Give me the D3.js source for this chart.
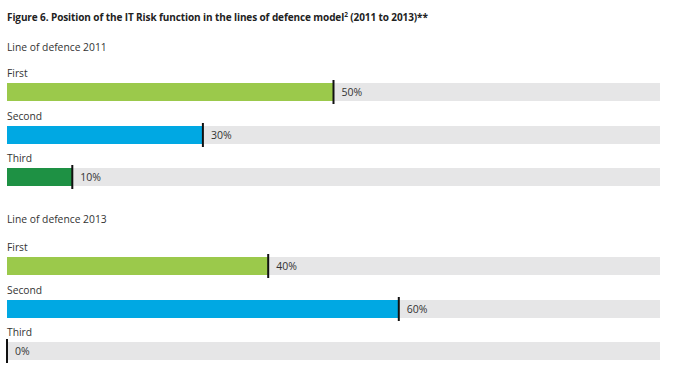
<!DOCTYPE html>
<html><head><meta charset="utf-8">
<script src="https://cdn.jsdelivr.net/npm/d3@7"></script>
<style>body{margin:0;background:#fff}svg{display:block}</style>
</head><body>
<script>
const categories = ["First","Second","Third"];
const values2011 = [50,30,10];
const values2013 = [40,60,0];
const groups = ["Line of defence 2011","Line of defence 2013"];
const colors = ["#9bc94b","#00a8e3","#1e9144"];

const W=680,H=378;
const svg=d3.select("body").append("svg").attr("width",W).attr("height",H);
const font="'Open Sans', sans-serif";
const x=d3.scaleLinear().domain([0,100]).range([7,660]);

const title=svg.append("text").attr("x",7).attr("y",21).attr("font-family",font)
 .attr("font-size",10).attr("font-weight","bold").attr("fill","#222").attr("letter-spacing",-0.1);
title.append("tspan").text("Figure 6. Position of the IT Risk function in the lines of defence model");
title.append("tspan").attr("font-size",6.5).attr("dy",-4).text("2");
title.append("tspan").attr("dy",4).text(" (2011 to 2013)**");

const data=[values2011,values2013];
const groupTop=[47,219];
const barStart=[83,257];
data.forEach((vals,gi)=>{
  const g=svg.append("g");
  g.append("text").attr("x",7).attr("y",groupTop[gi]+4).attr("font-family",font)
   .attr("font-size",10.3).attr("fill","#333").text(groups[gi]);
  const y=d3.scaleBand().domain(categories).range([barStart[gi],barStart[gi]+42.5*3]);
  categories.forEach((c,i)=>{
    const top=Math.round(y(c));
    g.append("text").attr("x",7).attr("y",top-6).attr("font-family",font)
     .attr("font-size",10.3).attr("fill","#333").text(c);
    g.append("rect").attr("x",x(0)).attr("y",top).attr("width",x(100)-x(0)).attr("height",18).attr("fill","#e6e6e7");
    g.append("rect").attr("x",x(0)).attr("y",top).attr("width",x(vals[i])-x(0)).attr("height",18).attr("fill",colors[i]);
    g.append("line").attr("x1",x(vals[i])).attr("x2",x(vals[i])).attr("y1",top-3).attr("y2",top+21)
     .attr("stroke","#111").attr("stroke-width",2);
    g.append("text").attr("x",x(vals[i])+8).attr("y",top+13).attr("font-family",font)
     .attr("font-size",10.5).attr("fill","#333").text(vals[i]+"%");
  });
});
</script>
</body></html>
